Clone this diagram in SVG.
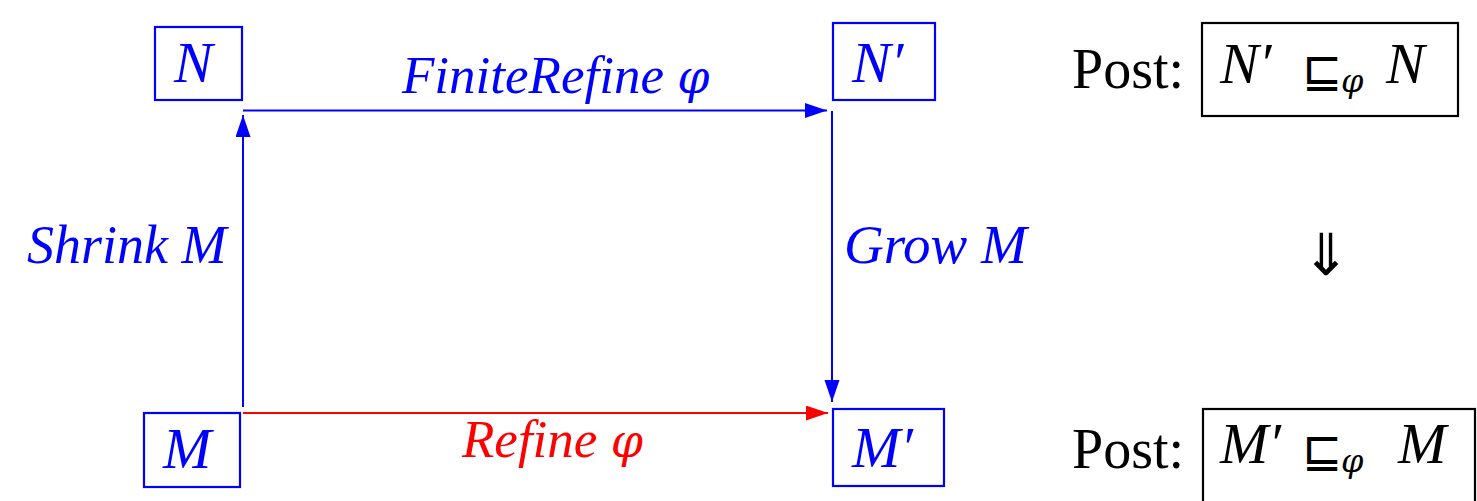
<svg xmlns="http://www.w3.org/2000/svg" width="1477" height="501" viewBox="0 0 1477 501">
  <style>
    .node { fill: none; stroke: #0000ff; stroke-width: 2.2; }
    .post { fill: none; stroke: #000; stroke-width: 2.2; }
    .edge { fill: none; stroke-width: 2; }
  </style>
  <defs>
    <marker id="headBlue" markerUnits="userSpaceOnUse" markerWidth="24" markerHeight="16" refX="22" refY="7.5" orient="auto" viewBox="0 0 24 16">
      <path d="M0,0 L22,7.5 L0,15 Z" fill="#0000ff"/>
    </marker>
    <marker id="headRed" markerUnits="userSpaceOnUse" markerWidth="24" markerHeight="16" refX="22" refY="7.5" orient="auto" viewBox="0 0 24 16">
      <path d="M0,0 L22,7.5 L0,15 Z" fill="#ff0000"/>
    </marker>
  </defs>

  <!-- connectors and their labels -->
  <g id="connectors">
    <path id="e-finite" class="edge" stroke="#0000ff" d="M243,110.5 H827" marker-end="url(#headBlue)"/>
    <path id="e-shrink" class="edge" stroke="#0000ff" d="M243,407 V115" marker-end="url(#headBlue)"/>
    <path id="e-grow" class="edge" stroke="#0000ff" d="M832,111 V402" marker-end="url(#headBlue)"/>
    <path id="e-refine" class="edge" stroke="#ff0000" d="M243,413 H828" marker-end="url(#headRed)"/>
    <text x="402" y="93" font-family="Liberation Serif" font-style="italic" font-size="53" fill="#0000ff">FiniteRefine <tspan font-family="DejaVu Serif" font-size="46">φ</tspan></text>
    <text x="27" y="263" font-family="Liberation Serif" font-style="italic" font-size="54" fill="#0000ff">Shrink M</text>
    <text x="844" y="263" font-family="Liberation Serif" font-style="italic" font-size="55" fill="#0000ff">Grow M</text>
    <text x="462" y="457" font-family="Liberation Serif" font-style="italic" font-size="53" fill="#ff0000">Refine <tspan font-family="DejaVu Serif" font-size="46">φ</tspan></text>
  </g>

  <!-- nodes -->
  <g id="node-N">
    <rect class="node" x="155" y="27" width="87" height="73"/>
    <text x="174" y="82" font-family="Liberation Serif" font-style="italic" font-size="58" fill="#0000ff">N</text>
  </g>
  <g id="node-Nprime">
    <rect class="node" x="833" y="23" width="102" height="77"/>
    <text x="852" y="82" font-family="Liberation Serif" font-style="italic" font-size="58" fill="#0000ff">N′</text>
  </g>
  <g id="node-M">
    <rect class="node" x="144" y="413" width="96" height="74"/>
    <text x="163" y="468" font-family="Liberation Serif" font-style="italic" font-size="58" fill="#0000ff">M</text>
  </g>
  <g id="node-Mprime">
    <rect class="node" x="833" y="409" width="111" height="77"/>
    <text x="852" y="467" font-family="Liberation Serif" font-style="italic" font-size="58" fill="#0000ff">M′</text>
  </g>

  <!-- postconditions -->
  <g id="post-top">
    <text x="1072" y="88" font-family="Liberation Serif" font-size="56">Post:</text>
    <rect class="post" x="1202" y="23" width="256" height="93"/>
    <text x="1220" y="83" font-family="Liberation Serif" font-style="italic" font-size="58">N′<tspan x="1302" dy="4" font-family="DejaVu Sans" font-style="normal" font-size="48">⊑</tspan><tspan x="1341" dy="5" font-family="DejaVu Serif" font-size="32">φ</tspan><tspan x="1386" dy="-9">N</tspan></text>
  </g>
  <g id="implies">
    <text x="1326" y="275" font-family="DejaVu Sans" font-size="58" text-anchor="middle">⇓</text>
  </g>
  <g id="post-bottom">
    <text x="1072" y="468" font-family="Liberation Serif" font-size="56">Post:</text>
    <rect class="post" x="1203" y="409" width="272" height="100"/>
    <text x="1220" y="463" font-family="Liberation Serif" font-style="italic" font-size="58">M′<tspan x="1302" dy="4" font-family="DejaVu Sans" font-style="normal" font-size="48">⊑</tspan><tspan x="1341" dy="5" font-family="DejaVu Serif" font-size="32">φ</tspan><tspan x="1398" dy="-9">M</tspan></text>
  </g>
</svg>
